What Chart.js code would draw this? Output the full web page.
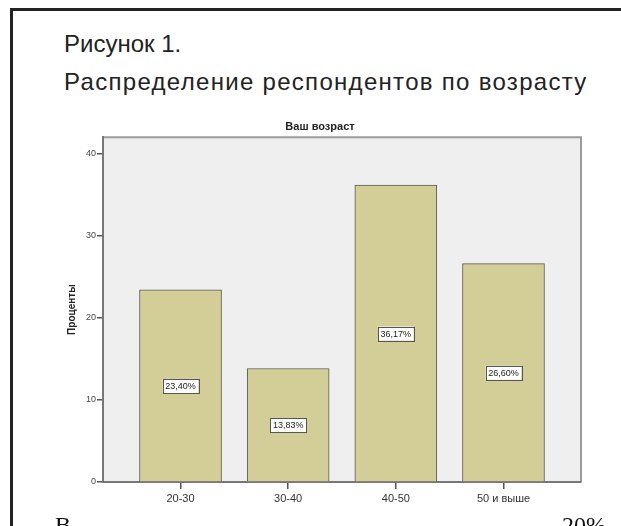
<!DOCTYPE html>
<html>
<head>
<meta charset="utf-8">
<script src="https://cdn.jsdelivr.net/npm/chart.js@4.4.1/dist/chart.umd.min.js"></script>
<style>
  html, body { margin: 0; padding: 0; background: #fff; overflow: hidden; }
  body { width: 621px; height: 526px; position: relative; font-family: "Liberation Sans", Arial, sans-serif; }
  #frame { position: absolute; left: 10px; top: 8px; width: 640px; height: 560px;
           border-left: 3px solid #222; border-top: 3px solid #222; }
  .head { position: absolute; left: 64px; font-size: 24px; color: #222; white-space: nowrap; }
  #chartBox { position: absolute; left: 0; top: 0; width: 621px; height: 526px; }
  .cut { position: absolute; top: 512px; font-family: "Liberation Serif", serif; font-size: 24px; color: #111; }
</style>
</head>
<body>
<div id="frame"></div>
<div class="head" style="top:30px">Рисунок 1.</div>
<div class="head" style="top:68px; letter-spacing:1.3px">Распределение респондентов по возрасту</div>
<div id="chartBox"><canvas id="ageChart"></canvas></div>
<div class="cut" style="left:55px">В</div>
<div class="cut" style="left:562px">20%</div>
<script>
const categories = ["20-30", "30-40", "40-50", "50 и выше"];
const percents = [23.40, 13.83, 36.17, 26.60];
const yTicks = [0, 10, 20, 30, 40];

const fmt = v => v.toFixed(2).replace(".", ",") + "%";

// light grey plot background and the thin frame around it
const plotFrame = {
  id: "plotFrame",
  beforeDraw(chart) {
    const a = chart.chartArea, ctx = chart.ctx;
    ctx.save();
    ctx.fillStyle = "#efefef";
    ctx.fillRect(a.left, a.top, a.right - a.left, a.bottom - a.top);
    ctx.strokeStyle = "#9a9a9a";
    ctx.lineWidth = 2;
    ctx.beginPath();
    ctx.moveTo(a.left, a.top);
    ctx.lineTo(a.right, a.top);
    ctx.lineTo(a.right, a.bottom);
    ctx.stroke();
    ctx.restore();
  }
};

// boxed percentage in the middle of each bar
const boxLabels = {
  id: "boxLabels",
  afterDatasetsDraw(chart) {
    const ctx = chart.ctx, y = chart.scales.y;
    const meta = chart.getDatasetMeta(0);
    ctx.save();
    ctx.font = "9px 'Liberation Sans', Arial, sans-serif";
    ctx.textAlign = "center";
    ctx.textBaseline = "middle";
    meta.data.forEach((bar, i) => {
      const txt = fmt(percents[i]);
      const w = ctx.measureText(txt).width + 5;
      const h = 14;
      const cy = y.getPixelForValue(percents[i] / 2);
      ctx.fillStyle = "#fff";
      ctx.fillRect(bar.x - w / 2, cy - h / 2, w, h);
      ctx.strokeStyle = "#555";
      ctx.lineWidth = 1;
      ctx.strokeRect(Math.round(bar.x - w / 2) + 0.5, Math.round(cy - h / 2) + 0.5, Math.round(w), h);
      ctx.fillStyle = "#222";
      ctx.fillText(txt, bar.x, cy + 0.5);
    });
    ctx.restore();
  }
};

new Chart(document.getElementById("ageChart"), {
  type: "bar",
  data: {
    datasets: [{
      label: "Проценты",
      data: percents.map((v, i) => ({ x: i, y: v })),
      backgroundColor: "#d3ce98",
      borderColor: "#5a5a50",
      borderWidth: 1,
      barThickness: 82
    }]
  },
  options: {
    responsive: true,
    maintainAspectRatio: false,
    animation: false,
    layout: { padding: { left: 59, right: 40, top: 120, bottom: 0 } },
    plugins: {
      legend: { display: false },
      tooltip: { enabled: false },
      title: {
        display: true,
        text: "Ваш возраст",
        color: "#222",
        font: { family: "'Liberation Sans', Arial, sans-serif", size: 11, weight: "bold" },
        padding: { top: 0, bottom: 4 }
      }
    },
    scales: {
      x: {
        type: "linear",
        offset: false,
        min: -0.72,
        max: 3.72,
        afterFit: s => { s.height = 44; },
        ticks: {
          stepSize: 1,
          includeBounds: false,
          autoSkip: false,
          maxRotation: 0,
          padding: 3,
          color: "#333",
          font: { family: "'Liberation Sans', Arial, sans-serif", size: 11 },
          callback: v => categories[v] ?? ""
        },
        grid: { offset: false, drawOnChartArea: false, tickLength: 7, color: "#555", lineWidth: 1.5 },
        border: { color: "#777", width: 2 }
      },
      y: {
        min: 0,
        max: 42,
        afterFit: s => { s.width = 44; },
        afterBuildTicks: s => { s.ticks = yTicks.map(v => ({ value: v })); },
        ticks: {
          padding: 1,
          color: "#444",
          font: { family: "'Liberation Sans', Arial, sans-serif", size: 9 }
        },
        grid: { drawOnChartArea: false, tickLength: 6, color: "#555", lineWidth: 1.5 },
        border: { color: "#777", width: 2 },
        title: {
          display: true,
          text: "Проценты",
          color: "#222",
          font: { family: "'Liberation Sans', Arial, sans-serif", size: 10, weight: "bold" },
          padding: { top: 7, bottom: 0 }
        }
      }
    }
  },
  plugins: [plotFrame, boxLabels]
});
</script>
</body>
</html>
